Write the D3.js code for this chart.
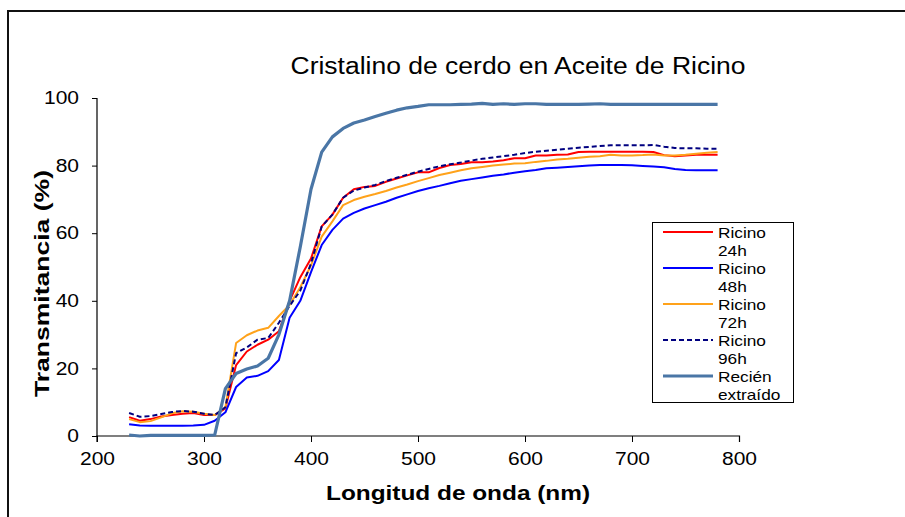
<!DOCTYPE html>
<html><head><meta charset="utf-8">
<script src="https://cdn.jsdelivr.net/npm/d3@7"></script>
<style>html,body{margin:0;padding:0;background:#fff;overflow:hidden}svg{display:block;font-family:"Liberation Sans",Arial,sans-serif}</style>
</head><body>
<svg id="c" width="905" height="517"></svg>
<script>
const wavelengths = d3.range(230, 781, 10);
const ricino24 = [5.6,4.5,5,5.8,6.2,6.6,6.8,6.2,6.2,8.2,21,25,27,28.5,31,40,47,52.5,62,65.5,70.5,73,73.7,74,75.2,76.2,77.1,78,78,79.3,80.2,80.5,81,81,81.2,81.6,82.2,82.2,83,83,83.2,83.3,84,84.1,84.1,84.1,84.1,84.1,84.1,84,83.1,82.8,83,83.2,83.2,83.2];
const ricino48 = [3.5,3.1,3,3,3,3,3.1,3.3,4.5,7,14.5,17.3,17.8,19.2,22.5,35,40,48.5,56.5,61,64.3,66,67.3,68.3,69.3,70.5,71.5,72.5,73.3,74,74.8,75.5,76,76.5,77,77.4,77.9,78.3,78.7,79.2,79.4,79.6,79.8,80,80.2,80.2,80.2,80.1,79.9,79.7,79.5,79,78.7,78.6,78.6,78.6];
const ricino72 = [5,4.1,4.4,5.5,6.7,7.3,7.2,6.6,6.2,8.5,27.5,29.8,31.2,32,35.5,38.8,44,50.5,59,63.5,68.3,69.8,70.8,71.6,72.5,73.5,74.4,75.4,76.3,77.2,77.9,78.6,79.2,79.6,80,80.3,80.6,80.7,81.1,81.4,81.8,82,82.3,82.6,82.8,83.2,83,83,83.1,83.3,83,83,83.2,83.5,83.8,84];
const ricino96 = [6.8,5.7,5.9,6.5,7.1,7.4,7.2,6.6,6.2,8.5,24.5,26.2,28.5,29,33.5,38.5,43,51,62,65.5,70.5,72.6,73.5,74.3,75.4,76.4,77.3,78.2,79,79.8,80.4,80.9,81.5,82,82.4,82.8,83.2,83.7,84.1,84.4,84.7,85,85.3,85.5,85.8,86,86,86,86,86.1,85.6,85.2,85.1,85.1,85,85];
const recien = [0.3,0,0.2,0.2,0.2,0.2,0.2,0.2,0.3,14,18.5,19.8,20.7,23,30,40,56,73,84,88.5,91,92.6,93.5,94.5,95.5,96.4,97.1,97.5,98,98,98,98.1,98.2,98.4,98.1,98.3,98.1,98.3,98.3,98.1,98.1,98.1,98.1,98.2,98.3,98.1,98.1,98.1,98.1,98.1,98.1,98.1,98.1,98.1,98.1,98.1];
const seriesNames = ["Ricino 24h","Ricino 48h","Ricino 72h","Ricino 96h","Recién extraído"];
const legendLines = [["Ricino","24h"],["Ricino","48h"],["Ricino","72h"],["Ricino","96h"],["Recién","extraído"]];
const xTicks = [200,300,400,500,600,700,800];
const yTicks = [0,20,40,60,80,100];
const titleText = "Cristalino de cerdo en Aceite de Ricino";
const xLabel = "Longitud de onda (nm)";
const yLabel = "Transmitancia (%)";

const series = [
  {name: seriesNames[0], values: ricino24, color: "#FF0000", width: 2, dash: null},
  {name: seriesNames[1], values: ricino48, color: "#0000FF", width: 2, dash: null},
  {name: seriesNames[2], values: ricino72, color: "#FFA21A", width: 2, dash: null},
  {name: seriesNames[3], values: ricino96, color: "#000080", width: 2, dash: "5,3"},
  {name: seriesNames[4], values: recien, color: "#4A76A6", width: 3.2, dash: null}
];

function stretch(sel, f) {
  sel.each(function() {
    const w = this.getComputedTextLength();
    d3.select(this).attr("textLength", w * f).attr("lengthAdjust", "spacingAndGlyphs");
  });
}

const svg = d3.select("#c");
svg.append("rect").attr("x", 8).attr("y", 11).attr("width", 1000).attr("height", 600)
  .attr("fill", "none").attr("stroke", "#111").attr("stroke-width", 2);

const x = d3.scaleLinear().domain([200, 800]).range([97, 739]);
const y = d3.scaleLinear().domain([0, 100]).range([436, 98]);

const gx = svg.append("g").attr("transform", "translate(0,436)")
  .call(d3.axisBottom(x).tickValues(xTicks).tickSize(6).tickPadding(11).tickFormat(d3.format("d")));
const gy = svg.append("g").attr("transform", "translate(97,0)")
  .call(d3.axisLeft(y).tickValues(yTicks).tickSize(5).tickPadding(13).tickFormat(d3.format("d")));
[gx, gy].forEach(g => {
  g.select(".domain").attr("stroke", "#000").attr("stroke-width", 1.2);
  g.selectAll(".tick line").attr("stroke", "#000");
  g.selectAll(".tick text").attr("fill", "#000").style("font-size", "17.5px").style("font-family", "Liberation Sans, Arial, sans-serif");
});
gy.select(".domain").attr("d", "M-5,98.5H0V436.5");
gx.select(".domain").attr("d", "M97,6V0H739.5V6");
stretch(gx.selectAll(".tick text"), 1.2);
stretch(gy.selectAll(".tick text"), 1.2);

const line = d3.line().x((d, i) => x(wavelengths[i])).y(d => y(d));
series.forEach(s => {
  svg.append("path").datum(s.values).attr("d", line)
    .attr("fill", "none").attr("stroke", s.color).attr("stroke-width", s.width)
    .attr("stroke-linejoin", "round").attr("stroke-dasharray", s.dash);
});

svg.append("text").attr("x", 518).attr("y", 74).attr("text-anchor", "middle")
  .style("font-size", "23px").attr("fill", "#000").text(titleText)
  .attr("textLength", 455).attr("lengthAdjust", "spacingAndGlyphs");
svg.append("text").attr("x", 458).attr("y", 500).attr("text-anchor", "middle")
  .style("font-size", "21px").style("font-weight", "bold").attr("fill", "#000").text(xLabel)
  .attr("textLength", 264).attr("lengthAdjust", "spacingAndGlyphs");
svg.append("text").attr("transform", "translate(49,283.5) rotate(-90)").attr("text-anchor", "middle")
  .style("font-size", "21px").style("font-weight", "bold").attr("fill", "#000").text(yLabel)
  .attr("textLength", 227).attr("lengthAdjust", "spacingAndGlyphs");

const lg = svg.append("g");
lg.append("rect").attr("x", 652.5).attr("y", 222.5).attr("width", 141).attr("height", 180)
  .attr("fill", "#fff").attr("stroke", "#000").attr("stroke-width", 1);
series.forEach((s, i) => {
  const yy = 232 + i * 36;
  lg.append("line").attr("x1", 663).attr("x2", 713).attr("y1", yy).attr("y2", yy)
    .attr("stroke", s.color).attr("stroke-width", s.width).attr("stroke-dasharray", s.dash);
  legendLines[i].forEach((t, j) => {
    const tx = lg.append("text").attr("x", 718).attr("y", yy + 6 + j * 18)
      .style("font-size", "15px").attr("fill", "#000").text(t);
    stretch(tx, 1.15);
  });
});
</script>
</body></html>
